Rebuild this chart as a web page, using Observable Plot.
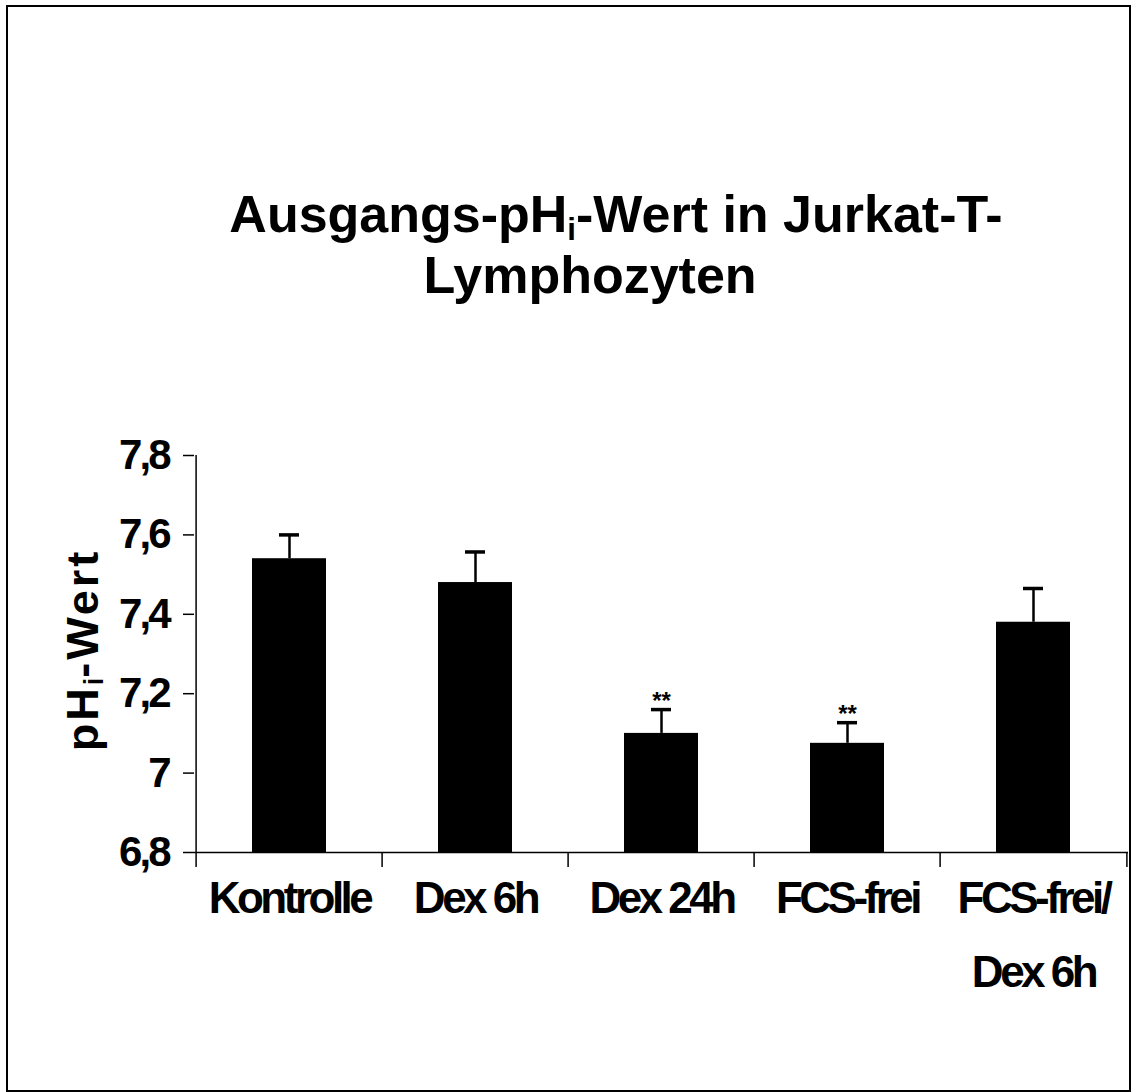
<!DOCTYPE html>
<html>
<head>
<meta charset="utf-8">
<script src="https://cdn.jsdelivr.net/npm/d3@7"></script>
<script src="https://cdn.jsdelivr.net/npm/@observablehq/plot@0.6"></script>
<style>
  html, body { margin: 0; padding: 0; background: #fff; }
  #wrap { position: relative; width: 1131px; height: 1092px; overflow: hidden; font-family: "Liberation Sans", Arial, sans-serif; }
  #border { position: absolute; left: 6px; top: 5px; width: 1125px; height: 1087px; border: 2px solid #000; box-sizing: border-box; pointer-events: none; }
  #chart { position: absolute; left: 0; top: 0; }
  .title { position: absolute; font-weight: bold; font-size: 52px; line-height: 1; white-space: nowrap; transform: translateX(-50%); color: #000; }
  .title sub { font-size: 0.6em; vertical-align: -0.25em; line-height: 0; }
  #ylabel { position: absolute; font-weight: bold; font-size: 45px; letter-spacing: 3px; line-height: 1; white-space: nowrap; transform: translate(-50%, -50%) rotate(-90deg); color: #000; }
  #ylabel sub { font-size: 0.6em; vertical-align: -0.2em; letter-spacing: 0; line-height: 0; }
  svg [aria-label="x-axis tick label"] text { letter-spacing: -3.5px; }
  svg [aria-label="y-axis tick label"] text { letter-spacing: -3px; }
</style>
</head>
<body>
<div id="wrap">
  <div id="chart"></div>
  <div class="title" style="left:616px; top:188px;">Ausgangs-pH<sub>i</sub>-Wert in Jurkat-T-</div>
  <div class="title" style="left:590px; top:249px;">Lymphozyten</div>
  <div id="ylabel" style="left:82px; top:650px;">pH<sub>i</sub>-Wert</div>
  <div id="border"></div>
</div>
<script>
// ---- data ----
const categories = ["Kontrolle", "Dex 6h", "Dex 24h", "FCS-frei", "FCS-frei/Dex 6h"];
const tickLabels = ["Kontrolle", "Dex 6h", "Dex 24h", "FCS-frei", "FCS-frei/\nDex 6h"];
const means = [7.54, 7.48, 7.10, 7.075, 7.38];
const errors = [0.06, 0.077, 0.06, 0.052, 0.085];
const significance = ["", "", "**", "**", ""];
const yTicks = [6.8, 7.0, 7.2, 7.4, 7.6, 7.8];
const yDomain = [6.8, 7.8];

// ---- build ----
const data = categories.map((c, i) => ({cat: c, mean: means[i], err: errors[i], sig: significance[i]}));
const labelOf = new Map(categories.map((c, i) => [c, tickLabels[i]]));

const W = 1131, H = 1092;
const mL = 194, mR = 3, mT = 455, mB = 240;
const step = (W - mL - mR) / categories.length;
const fmt = d => String(+d.toFixed(1)).replace(".", ",");

const chart = Plot.plot({
  width: W,
  height: H,
  marginLeft: mL,
  marginRight: mR,
  marginTop: mT,
  marginBottom: mB,
  style: {fontFamily: '"Liberation Sans", Arial, sans-serif', fontWeight: "bold", color: "#000", background: "transparent"},
  x: {domain: categories, paddingInner: 0.6, paddingOuter: 0.3},
  y: {domain: yDomain},
  marks: [
    Plot.barY(data, {x: "cat", y1: yDomain[0], y2: "mean", fill: "#000"}),
    Plot.ruleX(data, {x: "cat", y1: "mean", y2: d => d.mean + d.err, stroke: "#000", strokeWidth: 2.5}),
    Plot.tickY(data, {x: "cat", y: d => d.mean + d.err, stroke: "#000", strokeWidth: 3.5, insetLeft: 27, insetRight: 27}),
    Plot.text(data.filter(d => d.sig), {x: "cat", y: d => d.mean + d.err, text: "sig", fontSize: 24, fontWeight: "bold", lineAnchor: "bottom", dy: -1, fill: "#000"}),
    // axis lines
    Plot.ruleY([yDomain[0]], {stroke: "#000", strokeWidth: 1.5}),
    Plot.ruleX([categories[0]], {dx: -step / 2, y1: yDomain[0], y2: yDomain[1], stroke: "#000", strokeWidth: 1.5}),
    // y axis
    Plot.axisY(yTicks, {tickSize: 11, tickPadding: 15, tickFormat: fmt, fontSize: 42, fontWeight: "bold", label: null, stroke: "#000", strokeWidth: 1.5}),
    // x boundary ticks
    Plot.axisX(categories, {tickSize: 15, dx: -step / 2, tickFormat: () => "", label: null, stroke: "#000", strokeWidth: 1.5}),
    Plot.axisX([categories[categories.length - 1]], {tickSize: 15, dx: step / 2, tickFormat: () => "", label: null, stroke: "#000", strokeWidth: 1.5}),
    // x labels
    Plot.axisX(categories, {tickSize: 0, tickPadding: 7, tickFormat: d => labelOf.get(d), fontSize: 44, fontWeight: "bold", lineHeight: 1.7, label: null})
  ]
});
document.getElementById("chart").appendChild(chart);
</script>
</body>
</html>
